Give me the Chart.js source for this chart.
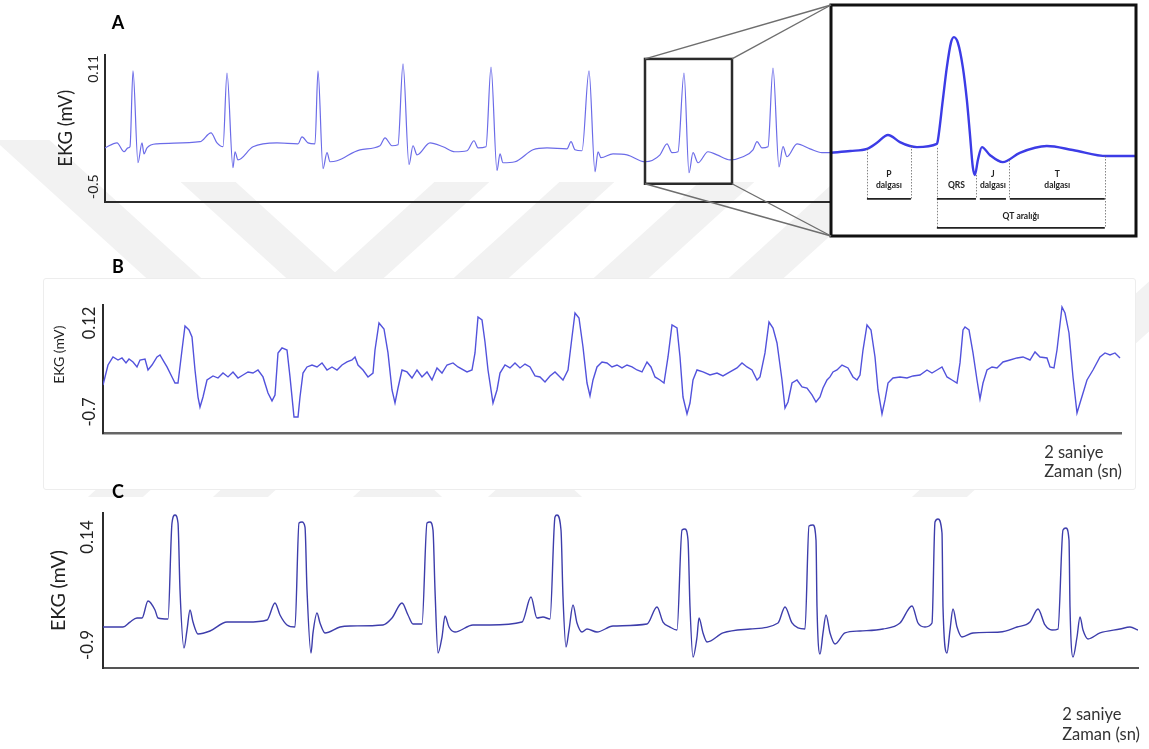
<!DOCTYPE html>
<html>
<head>
<meta charset="utf-8">
<script src="https://cdn.jsdelivr.net/npm/chart.js@4.4.1/dist/chart.umd.min.js"></script>
<style>
html, body { margin: 0; padding: 0; background: #fff; }
body { width: 1149px; height: 749px; position: relative; overflow: hidden; font-family: Lato, sans-serif; }
#wm { position: absolute; left: 0; top: 0; z-index: 0; }
.cover { position: absolute; background: #fff; z-index: 1; box-sizing: border-box; }
canvas.panel { position: absolute; z-index: 2; }
#overlay { position: absolute; left: 0; top: 0; z-index: 3; pointer-events: none; }
.tag { position: absolute; z-index: 4; font: bold 18px Lato, sans-serif; color: #000; transform: translate(-50%, -50%); }
</style>
</head>
<body>
<svg id="wm" width="1149" height="749"></svg>
<div class="cover" style="left:100px;top:0;width:740px;height:182px"></div>
<div class="cover" style="left:43px;top:278px;width:1093px;height:212px;border:1px solid #ededed;border-radius:3px"></div>
<div class="cover" style="left:43px;top:497px;width:1106px;height:252px"></div>
<div class="tag" style="left:118px;top:22px">A</div>
<div class="tag" style="left:118px;top:266px">B</div>
<div class="tag" style="left:118px;top:491px">C</div>
<canvas id="overlay" width="1149" height="749"></canvas>
<script>
// ===== DATA =====
// panel A (time in ms, EKG in mV)
const aTime = [0,24,38,46,50,56,66,74,78,84,104,190,212,224,236,244,256,260,266,296,
  344,386,394,406,420,426,436,444,450,464,510,550,560,574,586,596,608,616,624,650,
  676,700,724,738,746,762,772,784,790,796,820,856,884,924,932,940,954,968,980,986,
  992,1016,1044,1080,1110,1124,1134,1146,1158,1168,1176,1186,1206,1224,1250,1276,1296,1304,1314,1326,
  1336,1348,1356,1364,1384,1410,1434,1454];
const aVolt = [-0.299,-0.273,-0.319,-0.299,-0.293,0.100,-0.376,-0.273,-0.330,-0.299,-0.278,-0.267,-0.221,-0.273,-0.293,0.089,-0.402,-0.319,-0.361,-0.293,
  -0.273,-0.278,-0.242,-0.273,-0.278,0.100,-0.407,-0.324,-0.371,-0.366,-0.309,-0.288,-0.247,-0.288,-0.283,0.136,-0.386,-0.288,-0.335,-0.273,
  -0.293,-0.319,-0.314,-0.262,-0.299,-0.293,0.120,-0.417,-0.330,-0.376,-0.371,-0.309,-0.299,-0.304,-0.267,-0.309,-0.314,0.100,-0.423,-0.319,
  -0.350,-0.330,-0.335,-0.371,-0.335,-0.278,-0.324,-0.319,0.089,-0.428,-0.324,-0.376,-0.319,-0.335,-0.361,-0.345,-0.309,-0.267,-0.299,-0.293,
  0.115,-0.397,-0.293,-0.345,-0.278,-0.304,-0.324,-0.324];
const aTicks = [0.11, -0.5];

// zoomed beat (inset of panel A)
const zoomWindow = { from: 1080, to: 1254, low: -0.485, high: 0.162 };
const insetTime = [1080,1091,1100.5,1106.2,1112.5,1119.3,1125,1129,1140.4,1141,
  1143.8,1146.1,1148.4,1150.1,1152.4,1155.2,1157.5,1159.2,1160.9,1162.1,
  1163.8,1166.1,1170.6,1178,1187.7,1203.1,1217.9,1237.3,1254];
const insetVolt = [-0.252,-0.247,-0.241,-0.224,-0.202,-0.222,-0.233,-0.236,-0.227,-0.216,
  -0.104,-0.012,0.056,0.072,0.056,-0.012,-0.104,-0.196,-0.292,-0.314,
  -0.272,-0.236,-0.258,-0.278,-0.252,-0.233,-0.244,-0.261,-0.261];
const markTime = [1100.5, 1125.6, 1140.4, 1162.7, 1181.5, 1236.2];
const markTop = [-0.241, -0.233, -0.238, -0.314, -0.272, -0.261];
const markBottom = [-0.381, -0.381, -0.462, -0.381, -0.381, -0.462];
const segFrom = [1100.5, 1140.4, 1164.9, 1182.0, 1140.4];
const segTo = [1125.6, 1162.7, 1179.8, 1236.2, 1236.2];
const segLevel = [-0.381, -0.381, -0.381, -0.381, -0.462];
const segText = [['P', 'dalgası'], ['QRS'], ['J', 'dalgası'], ['T', 'dalgası'], ['QT aralığı']];

// panel B
const bTime = [0,10,20,30,38,46,52,60,68,74,
  84,90,98,108,114,122,128,138,144,150,
  158,164,172,178,184,190,194,200,208,220,
  230,240,250,260,270,280,290,300,310,320,
  330,338,344,350,358,368,374,382,390,394,
  400,408,418,428,438,448,458,468,478,488,
  498,504,510,520,530,540,544,552,562,570,
  578,584,590,598,608,618,628,638,648,658,
  668,678,688,700,710,728,738,744,750,758,
  764,770,780,788,794,804,814,824,834,844,
  854,864,874,884,894,904,914,920,930,938,
  944,952,960,968,974,980,988,998,1008,1018,
  1028,1038,1048,1058,1068,1078,1088,1096,1104,1114,
  1122,1130,1138,1148,1154,1160,1168,1174,1180,1188,
  1200,1214,1228,1240,1254,1268,1278,1288,1298,1308,
  1314,1324,1332,1340,1348,1358,1364,1370,1378,1388,
  1398,1408,1418,1426,1434,1440,1448,1454,1460,1468,
  1478,1490,1500,1508,1514,1520,1528,1536,1544,1550,
  1558,1564,1570,1580,1594,1608,1620,1634,1648,1658,
  1668,1678,1688,1698,1708,1714,1720,1724,1732,1740,
  1748,1754,1760,1768,1778,1788,1800,1814,1828,1840,
  1854,1864,1874,1888,1894,1902,1908,1918,1924,1932,
  1940,1948,1954,1968,1980,1994,2004,2014,2024,2034];
const bVolt = [-0.451,-0.267,-0.193,-0.221,-0.202,-0.248,-0.212,-0.239,-0.285,-0.221,
  -0.212,-0.313,-0.267,-0.193,-0.175,-0.239,-0.285,-0.377,-0.433,-0.433,
  -0.129,0.092,0.056,-0.009,-0.313,-0.562,-0.654,-0.562,-0.405,-0.368,
  -0.387,-0.341,-0.377,-0.331,-0.387,-0.359,-0.331,-0.341,-0.313,-0.377,
  -0.525,-0.598,-0.543,-0.156,-0.110,-0.129,-0.377,-0.746,-0.746,-0.562,
  -0.341,-0.285,-0.267,-0.285,-0.248,-0.313,-0.285,-0.313,-0.267,-0.239,
  -0.221,-0.193,-0.267,-0.313,-0.377,-0.341,-0.129,0.120,0.065,-0.156,
  -0.497,-0.617,-0.479,-0.313,-0.331,-0.387,-0.313,-0.377,-0.331,-0.405,
  -0.294,-0.341,-0.267,-0.248,-0.285,-0.331,-0.313,-0.156,0.175,0.148,
  -0.055,-0.313,-0.617,-0.497,-0.341,-0.267,-0.294,-0.248,-0.294,-0.258,
  -0.285,-0.368,-0.377,-0.423,-0.368,-0.331,-0.377,-0.405,-0.313,-0.009,
  0.212,0.166,-0.101,-0.433,-0.552,-0.405,-0.285,-0.239,-0.248,-0.285,
  -0.267,-0.294,-0.267,-0.285,-0.313,-0.331,-0.239,-0.285,-0.377,-0.405,
  -0.433,-0.193,0.102,0.074,-0.193,-0.562,-0.718,-0.617,-0.405,-0.313,
  -0.331,-0.359,-0.341,-0.368,-0.331,-0.294,-0.248,-0.285,-0.313,-0.405,
  -0.377,-0.156,0.129,0.074,-0.064,-0.405,-0.663,-0.608,-0.433,-0.405,
  -0.469,-0.479,-0.543,-0.608,-0.562,-0.479,-0.405,-0.377,-0.331,-0.313,
  -0.267,-0.294,-0.377,-0.405,-0.359,-0.129,0.102,0.056,-0.193,-0.497,
  -0.718,-0.589,-0.433,-0.387,-0.377,-0.387,-0.368,-0.359,-0.313,-0.341,
  -0.313,-0.285,-0.377,-0.405,-0.433,-0.248,0.056,0.083,0.056,-0.156,
  -0.405,-0.580,-0.433,-0.313,-0.285,-0.294,-0.239,-0.221,-0.202,-0.193,
  -0.221,-0.147,-0.193,-0.202,-0.285,-0.294,-0.129,0.267,0.212,0.028,
  -0.377,-0.709,-0.617,-0.405,-0.313,-0.193,-0.156,-0.175,-0.156,-0.202];
const bTicks = [0.12, -0.7];

// panel C
const cTime = [0,40,54,68,78,90,104,110,130,138,
  144,150,154,162,168,174,180,190,214,248,
  288,328,344,354,368,384,392,398,404,408,
  416,420,428,434,444,474,494,560,578,598,
  610,620,638,648,654,660,664,670,678,684,
  692,704,740,774,838,856,868,880,894,904,
  908,916,920,926,932,940,948,958,968,988,
  1020,1088,1108,1120,1134,1148,1158,1164,1170,1174,
  1180,1188,1192,1200,1208,1240,1294,1350,1364,1378,
  1390,1404,1412,1420,1426,1428,1434,1440,1446,1454,
  1464,1484,1514,1560,1594,1618,1630,1644,1658,1664,
  1670,1678,1680,1688,1694,1700,1708,1718,1740,1794,
  1828,1854,1870,1884,1898,1910,1920,1926,1932,1934,
  1940,1948,1954,1960,1970,1994,2034,2054,2070];
const cVolt = [-0.727,-0.727,-0.679,-0.640,-0.640,-0.476,-0.563,-0.640,-0.650,0.275,
  0.352,0.275,-0.370,-0.929,-0.756,-0.563,-0.679,-0.794,-0.765,-0.679,
  -0.679,-0.659,-0.496,-0.611,-0.707,-0.727,0.275,0.284,0.236,-0.370,
  -0.977,-0.784,-0.592,-0.688,-0.784,-0.727,-0.717,-0.707,-0.640,-0.496,
  -0.611,-0.698,-0.698,0.275,0.284,0.207,-0.370,-0.977,-0.823,-0.621,
  -0.727,-0.775,-0.707,-0.707,-0.679,-0.438,-0.640,-0.630,-0.650,0.333,
  0.352,0.207,-0.438,-0.919,-0.756,-0.515,-0.688,-0.775,-0.746,-0.775,
  -0.717,-0.698,-0.534,-0.679,-0.727,-0.756,0.207,0.217,0.111,-0.534,
  -1.016,-0.823,-0.640,-0.784,-0.871,-0.784,-0.746,-0.688,-0.534,-0.688,
  -0.736,-0.746,0.246,0.256,0.111,-0.534,-0.987,-0.784,-0.611,-0.784,
  -0.890,-0.784,-0.765,-0.746,-0.688,-0.524,-0.688,-0.727,-0.688,0.284,
  0.313,0.179,-0.534,-0.977,-0.756,-0.553,-0.727,-0.823,-0.784,-0.775,
  -0.727,-0.679,-0.553,-0.707,-0.756,-0.746,0.207,0.227,0.111,-0.534,
  -1.016,-0.823,-0.630,-0.756,-0.842,-0.784,-0.746,-0.727,-0.756];
const cTicks = [0.14, -0.9];

const timeNote = ['2 saniye', 'Zaman (sn)'];

// ===== WATERMARK (background decoration) =====
(function watermark() {
  const bands = [[45, 100, 1], [185, 240, 1], [430, 485, -1], [555, 610, -1], [695, 750, -1], [830, 885, -1], [1254, 1309, -1]];
  const svg = document.getElementById('wm');
  const y0 = 140, y1 = 500, m = 1.1;
  bands.forEach(([a, b, d]) => {
    const xa = y => a + d * (y - 186) * m, xb = y => b + d * (y - 186) * m;
    const p = document.createElementNS('http://www.w3.org/2000/svg', 'polygon');
    p.setAttribute('points', `${xa(y0)},${y0} ${xb(y0)},${y0} ${xb(y1)},${y1} ${xa(y1)},${y1}`);
    p.setAttribute('fill', '#f2f2f2');
    svg.appendChild(p);
  });
})();

// ===== HELPERS =====
const pts = (xs, ys) => xs.map((x, i) => ({ x, y: ys[i] }));

function addCanvas(left, top, w, h) {
  const cv = document.createElement('canvas');
  cv.className = 'panel';
  cv.width = w; cv.height = h;
  cv.style.left = left + 'px'; cv.style.top = top + 'px';
  document.body.appendChild(cv);
  return cv;
}

const zoomBoxPlugin = {
  id: 'zoomBox',
  afterDatasetsDraw(c) {
    const { x, y } = c.scales, ctx = c.ctx;
    ctx.save();
    ctx.strokeStyle = '#2b2b2b'; ctx.lineWidth = 2.5;
    const x0 = x.getPixelForValue(zoomWindow.from), x1 = x.getPixelForValue(zoomWindow.to);
    const y0 = y.getPixelForValue(zoomWindow.high), y1 = y.getPixelForValue(zoomWindow.low);
    ctx.strokeRect(x0, y0, x1 - x0, y1 - y0);
    ctx.restore();
  }
};

const timeNotePlugin = {
  id: 'timeNote',
  afterDraw(c, args, o) {
    if (!o.dy) return;
    const ctx = c.ctx, xs = c.scales.x;
    ctx.save();
    ctx.font = '16.5px Lato, sans-serif'; ctx.fillStyle = '#333';
    ctx.textAlign = 'left'; ctx.textBaseline = 'middle';
    const w = Math.max(...timeNote.map(s => ctx.measureText(s).width));
    const x0 = xs.right + o.dx - w;
    timeNote.forEach((s, i) => ctx.fillText(s, x0, c.chartArea.bottom + o.dy + i * o.gap));
    ctx.restore();
  }
};

function panel(cfg) {
  const { l, t, r, b } = cfg.area;
  const yw = 70, pt = 14, pr = 4, xh = 6;
  const cv = addCanvas(l - yw, t - pt, r - l + yw + pr, b - t + pt + xh + cfg.pb);
  return new Chart(cv, {
    type: 'line',
    data: {
      datasets: [{
        data: pts(cfg.time, cfg.volt),
        borderColor: cfg.color, borderWidth: cfg.width,
        pointRadius: 0, fill: false,
        tension: cfg.smooth ? 0.4 : 0,
        cubicInterpolationMode: cfg.smooth ? 'monotone' : 'default'
      }]
    },
    options: {
      responsive: false, animation: false, events: [],
      layout: { padding: { top: pt, right: pr, bottom: cfg.pb, left: 0 } },
      plugins: { legend: { display: false }, tooltip: { enabled: false }, timeNote: cfg.note || {} },
      scales: {
        x: {
          type: 'linear', min: 0, max: cfg.xMax,
          ticks: { display: false },
          grid: { display: false, drawTicks: false },
          border: { display: true, color: cfg.xAxisColor, width: cfg.xAxisWidth },
          afterFit: s => { s.height = xh; }
        },
        y: {
          min: cfg.yMin, max: cfg.yMax,
          afterBuildTicks: s => { s.ticks = cfg.ticks.map(v => ({ value: v })); },
          ticks: {
            autoSkip: false, minRotation: 90, maxRotation: 90, crossAlign: 'center',
            padding: cfg.tickPad, color: '#222',
            font: { family: 'Lato', size: cfg.tickSize },
            callback: v => String(v)
          },
          grid: { display: false, drawTicks: false },
          border: { display: true, color: '#2b2b2b', width: 2 },
          title: {
            display: true, text: cfg.title || 'EKG (mV)', color: '#222',
            font: { family: 'Lato', size: cfg.titleSize },
            padding: { top: cfg.titlePad, bottom: 0 }
          },
          afterFit: s => { s.width = yw; }
        }
      }
    },
    plugins: cfg.plugins || []
  });
}

// ===== CHARTS =====
const chartA = panel({
  area: { l: 105, t: 55, r: 832, b: 202 }, pb: 0,
  time: aTime, volt: aVolt, ticks: aTicks,
  xMax: 1454, yMin: -0.5775, yMax: 0.1824,
  color: '#6b6be8', width: 1.2, smooth: true,
  xAxisColor: '#2b2b2b', xAxisWidth: 2,
  tickSize: 14, tickPad: -2, titleSize: 18.5, titlePad: 20,
  plugins: [zoomBoxPlugin]
});

const chartB = panel({
  area: { l: 103, t: 305, r: 1121, b: 433 }, pb: 50,
  time: bTime, volt: bVolt, ticks: bTicks,
  xMax: 2036, yMin: -0.8935, yMax: 0.2858,
  color: '#5252dc', width: 1.4, smooth: false,
  xAxisColor: '#666', xAxisWidth: 2.5,
  tickSize: 16.5, tickPad: -2.5, titleSize: 14, titlePad: 18.5,
  title: '\u00a0\u00a0\u00a0\u00a0\u00a0\u00a0\u00a0\u00a0EKG (mV)',
  note: { dx: 1, dy: 20, gap: 19 },
  plugins: [timeNotePlugin]
});

const chartC = panel({
  area: { l: 103, t: 513, r: 1138, b: 668 }, pb: 76,
  time: cTime, volt: cVolt, ticks: cTicks,
  xMax: 2070, yMin: -1.1215, yMax: 0.3711,
  color: '#3d3dab', width: 1.4, smooth: true,
  xAxisColor: '#555', xAxisWidth: 2,
  tickSize: 17, tickPad: -1, titleSize: 19.5, titlePad: 14.3,
  note: { dx: 2, dy: 47, gap: 20 },
  plugins: [timeNotePlugin]
});

// inset: zoomed beat with wave annotations
const insetPlugin = {
  id: 'insetMarks',
  beforeDraw(c) {
    const a = c.chartArea, ctx = c.ctx;
    ctx.save(); ctx.fillStyle = '#fff';
    ctx.fillRect(a.left, a.top, a.right - a.left, a.bottom - a.top);
    ctx.restore();
  },
  afterDatasetsDraw(c) {
    const { x, y } = c.scales, ctx = c.ctx, a = c.chartArea;
    ctx.save();
    ctx.strokeStyle = '#666'; ctx.lineWidth = 0.8; ctx.setLineDash([1.5, 1.5]);
    markTime.forEach((t, i) => {
      const px = Math.round(x.getPixelForValue(t)) + 0.5;
      ctx.beginPath();
      ctx.moveTo(px, y.getPixelForValue(markTop[i]));
      ctx.lineTo(px, y.getPixelForValue(markBottom[i]));
      ctx.stroke();
    });
    ctx.setLineDash([]);
    ctx.strokeStyle = '#222'; ctx.lineWidth = 1.8;
    ctx.fillStyle = '#222'; ctx.font = 'bold 8.5px Lato, sans-serif';
    ctx.textAlign = 'center'; ctx.textBaseline = 'middle';
    segFrom.forEach((f, i) => {
      const x0 = x.getPixelForValue(f), x1 = x.getPixelForValue(segTo[i]);
      const py = y.getPixelForValue(segLevel[i]);
      ctx.beginPath(); ctx.moveTo(x0, py); ctx.lineTo(x1, py); ctx.stroke();
      const lines = segText[i], cx = (x0 + x1) / 2;
      const base = py - (lines.length > 1 ? 14 : (i === 4 ? 12 : 14));
      lines.forEach((s, k) => ctx.fillText(s, cx, base - (lines.length - 1 - k) * 11));
    });
    ctx.strokeStyle = '#111'; ctx.lineWidth = 3;
    ctx.strokeRect(a.left, a.top, a.right - a.left, a.bottom - a.top);
    ctx.restore();
  }
};

const insetCanvas = addCanvas(828, 2, 311, 237);
const chartInset = new Chart(insetCanvas, {
  type: 'line',
  data: {
    datasets: [{
      data: pts(insetTime, insetVolt),
      borderColor: '#3c3ce6', borderWidth: 2.4,
      pointRadius: 0, fill: false, tension: 0.4, cubicInterpolationMode: 'monotone'
    }]
  },
  options: {
    responsive: false, animation: false, events: [],
    layout: { padding: 3 },
    plugins: { legend: { display: false }, tooltip: { enabled: false } },
    scales: {
      x: { type: 'linear', display: false, min: zoomWindow.from, max: zoomWindow.to },
      y: { display: false, min: zoomWindow.low, max: zoomWindow.high }
    }
  },
  plugins: [insetPlugin]
});

// ===== CONNECTORS (zoom box -> inset) =====
(function connectors() {
  const ctx = document.getElementById('overlay').getContext('2d');
  const ca = chartA.canvas, ci = chartInset.canvas;
  const ax = v => ca.offsetLeft + chartA.scales.x.getPixelForValue(v);
  const ay = v => ca.offsetTop + chartA.scales.y.getPixelForValue(v);
  const ia = chartInset.chartArea;
  const il = ci.offsetLeft + ia.left, it = ci.offsetTop + ia.top, ib = ci.offsetTop + ia.bottom;
  ctx.strokeStyle = '#6e6e6e'; ctx.lineWidth = 1.4;
  [[zoomWindow.from, zoomWindow.high, it], [zoomWindow.to, zoomWindow.high, it],
   [zoomWindow.from, zoomWindow.low, ib], [zoomWindow.to, zoomWindow.low, ib]].forEach(([t, v, ty]) => {
    ctx.beginPath(); ctx.moveTo(ax(t), ay(v)); ctx.lineTo(il, ty); ctx.stroke();
  });
})();
</script>
</body>
</html>
